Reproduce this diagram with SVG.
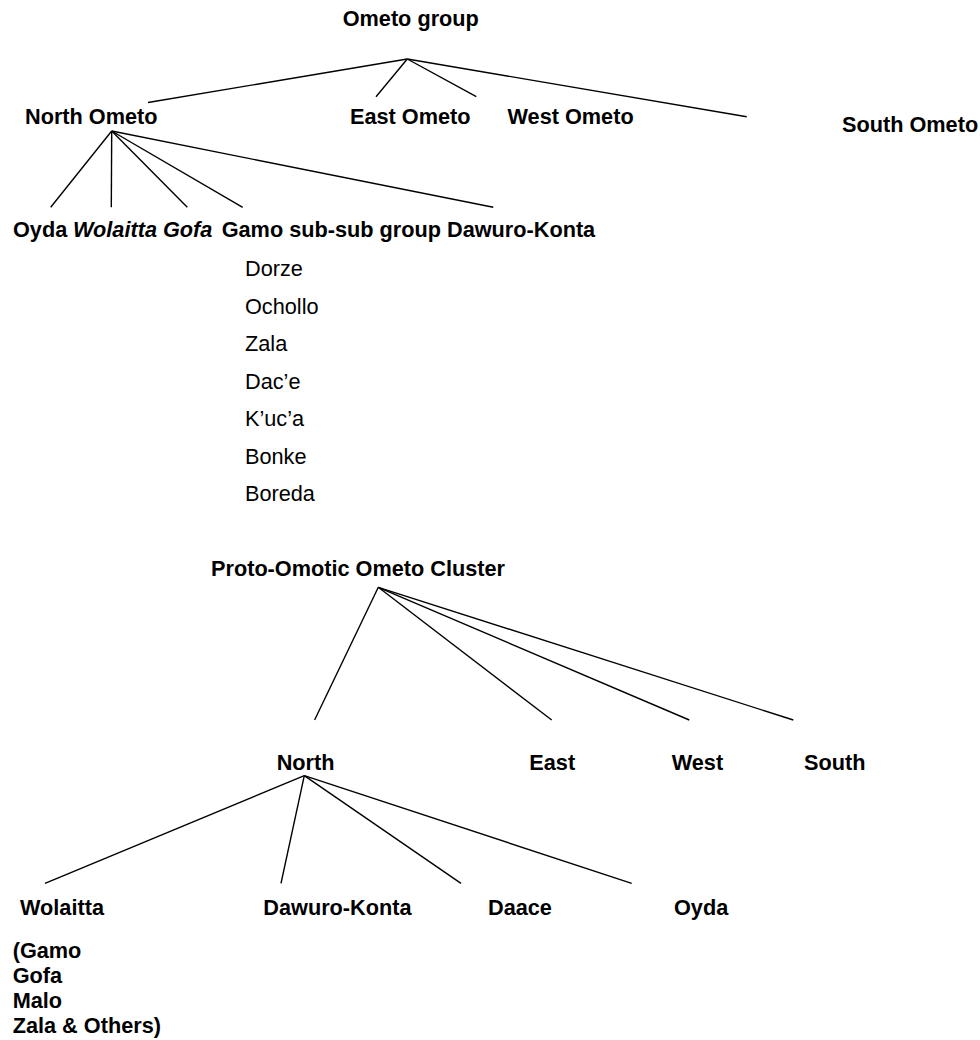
<svg xmlns="http://www.w3.org/2000/svg" width="980" height="1040" viewBox="0 0 980 1040">
<style>
text{font-family:"Liberation Sans",Arial,sans-serif;font-size:21.7px;fill:#000}
.b{font-weight:bold}
.i{font-style:italic}
.edges line{stroke:#000;stroke-width:1.4;fill:none}
</style>
<rect width="980" height="1040" fill="#fff"/>
<g class="edges" id="connectors">
<line x1="407.3" y1="59" x2="148" y2="102.5"/>
<line x1="407.3" y1="59" x2="376" y2="96.7"/>
<line x1="407.3" y1="59" x2="476.3" y2="96.7"/>
<line x1="407.3" y1="59" x2="746.7" y2="116.7"/>
<line x1="111.7" y1="131" x2="50.7" y2="207.3"/>
<line x1="111.7" y1="131" x2="111.3" y2="207.3"/>
<line x1="111.7" y1="131" x2="187.3" y2="207.3"/>
<line x1="111.7" y1="131" x2="242.7" y2="207.3"/>
<line x1="111.7" y1="131" x2="493.3" y2="207.3"/>
<line x1="378.3" y1="587.3" x2="314.6" y2="720"/>
<line x1="378.3" y1="587.3" x2="551.7" y2="720"/>
<line x1="378.3" y1="587.3" x2="689.3" y2="720"/>
<line x1="378.3" y1="587.3" x2="793.3" y2="720"/>
<line x1="304.3" y1="775.7" x2="45" y2="883.3"/>
<line x1="304.3" y1="775.7" x2="281" y2="883.3"/>
<line x1="304.3" y1="775.7" x2="461" y2="883.3"/>
<line x1="304.3" y1="775.7" x2="631.7" y2="883.3"/>
</g>
<g id="ometo-group"><text class="b" x="342.7" y="25.5">Ometo group</text></g>
<g id="north-ometo"><text class="b" x="25" y="124">North Ometo</text></g>
<g id="east-ometo"><text class="b" x="350" y="123.5">East Ometo</text></g>
<g id="west-ometo"><text class="b" x="507.5" y="123.5">West Ometo</text></g>
<g id="south-ometo"><text class="b" x="842" y="132">South Ometo</text></g>
<g id="north-ometo-children">
<text class="b" x="13" y="237">Oyda</text>
<text class="b i" x="73" y="237">Wolaitta</text>
<text class="b i" x="163" y="237">Gofa</text>
<text class="b" x="221.7" y="237">Gamo sub-sub group Dawuro-Konta</text>
</g>
<g id="gamo-list">
<text x="245" y="276">Dorze</text>
<text x="245" y="313.5">Ochollo</text>
<text x="245" y="351">Zala</text>
<text x="245" y="388.5">Dac’e</text>
<text x="245" y="426">K’uc’a</text>
<text x="245" y="463.5">Bonke</text>
<text x="245" y="501">Boreda</text>
</g>
<g id="proto-omotic"><text class="b" x="211" y="576">Proto-Omotic Ometo Cluster</text></g>
<g id="north"><text class="b" x="276.7" y="770">North</text></g>
<g id="east"><text class="b" x="529.3" y="770">East</text></g>
<g id="west"><text class="b" x="671.7" y="770">West</text></g>
<g id="south"><text class="b" x="804" y="770">South</text></g>
<g id="wolaitta">
<text class="b" x="20" y="915">Wolaitta</text>
<text class="b" x="12.7" y="958.3">(Gamo</text>
<text class="b" x="12.7" y="983.3">Gofa</text>
<text class="b" x="12.7" y="1008.3">Malo</text>
<text class="b" x="12.7" y="1033.3">Zala &amp; Others)</text>
</g>
<g id="dawuro-konta"><text class="b" x="263.3" y="915">Dawuro-Konta</text></g>
<g id="daace"><text class="b" x="488" y="915">Daace</text></g>
<g id="oyda"><text class="b" x="674" y="915">Oyda</text></g>
</svg>
